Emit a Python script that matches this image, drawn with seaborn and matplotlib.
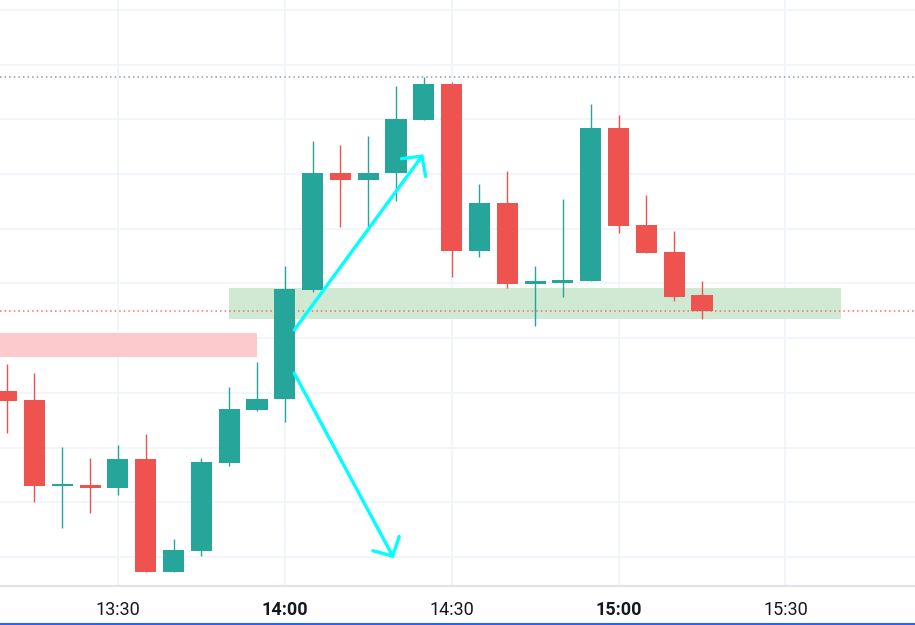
import numpy as np
import matplotlib
matplotlib.use('Agg')
import matplotlib.pyplot as plt
import seaborn as sns

# 5-minute candles, 13:10 .. 15:15
times = ['13:10', '13:15', '13:20', '13:25', '13:30', '13:35', '13:40', '13:45', '13:50', '13:55',
         '14:00', '14:05', '14:10', '14:15', '14:20', '14:25', '14:30', '14:35', '14:40', '14:45',
         '14:50', '14:55', '15:00', '15:05', '15:10', '15:15']
opens = [130.3, 128.7, 113.0, 113.2, 112.6, 117.9, 97.3, 101.1, 117.2, 126.9,
         128.9, 148.8, 170.2, 168.9, 170.2, 179.9, 186.5, 155.9, 164.7, 149.9,
         150.1, 150.5, 178.4, 160.7, 155.8, 147.9]
highs = [135.3, 133.6, 120.1, 118.1, 120.5, 122.5, 103.3, 118.1, 131.1, 135.6,
         153.2, 176.1, 175.3, 177.0, 186.1, 187.8, 186.8, 168.2, 170.6, 153.2,
         165.4, 182.8, 180.8, 166.2, 159.6, 150.5]
lows = [122.7, 110.1, 105.3, 108.0, 111.3, 97.3, 97.3, 100.2, 116.6, 126.7,
        124.7, 148.4, 160.3, 160.1, 165.1, 179.9, 151.2, 154.8, 149.2, 142.2,
        147.5, 150.5, 159.2, 155.6, 146.8, 143.5]
closes = [128.5, 113.0, 113.3, 112.6, 117.9, 97.3, 101.3, 117.4, 127.1, 128.9,
          149.0, 170.2, 168.9, 170.2, 180.1, 186.5, 155.9, 164.7, 149.9, 150.5,
          150.6, 178.4, 160.5, 155.6, 147.5, 145.0]

tick_times = ['13:30', '14:00', '14:30', '15:00', '15:30']

# zones / levels
supply_zone = ('13:00', '13:55', 136.6, 141.0)
demand_zone = ('13:50', '15:40', 143.5, 149.2)
high_level = 187.8
last_close = 145.0

# drawn arrows (start time, start price, end time, end price)
arrow_up = ('14:01.7', 141.5, '14:24.9', 173.6)
arrow_down = ('14:01.7', 133.6, '14:19.6', 99.8)


def to_min(t):
    h, m = t.split(':')
    return (int(h) - 13) * 60 + float(m)


UP = '#26a69a'
DOWN = '#ef5350'

sns.set_theme(style='white')
plt.rcParams['font.family'] = ['Roboto', 'DejaVu Sans']

fig = plt.figure(figsize=(9.15, 6.25), dpi=100)
ax = fig.add_axes([0, 39 / 625, 1, 586 / 625])

x = np.array([to_min(t) for t in times])
o = np.array(opens)
h = np.array(highs)
l = np.array(lows)
c = np.array(closes)
colors = [UP if cc >= oo else DOWN for oo, cc in zip(o, c)]

# grid
for gy in range(100, 201, 10):
    ax.axhline(gy, color='#f0f3fa', lw=1.2, zorder=0)
for t in tick_times:
    ax.axvline(to_min(t), color='#f0f3fa', lw=1.2, zorder=0)

# zones
ax.fill_between([to_min(supply_zone[0]), to_min(supply_zone[1])], supply_zone[2], supply_zone[3],
                color='#fcc9cd', lw=0, zorder=0.5)
ax.fill_between([to_min(demand_zone[0]), to_min(demand_zone[1])], demand_zone[2], demand_zone[3],
                color='#d0e9d3', lw=0, zorder=0.5)

# price lines
ax.axhline(high_level, color='#9598a1', lw=1.1, ls=(0, (1, 2)), zorder=1)
ax.axhline(last_close, color='#ef5350', lw=1.1, ls=(0, (1, 2)), alpha=0.8, zorder=1)

# candles
ax.vlines(x, l, h, colors=colors, lw=1.0, zorder=2)
body_lo = np.minimum(o, c)
body_h = np.maximum(np.abs(c - o), 0.4)
ax.bar(x, body_h, bottom=body_lo, width=3.8, color=colors, lw=0, zorder=2.5)

# arrows
for a in (arrow_up, arrow_down):
    ax.annotate('', xy=(to_min(a[2]), a[3]), xytext=(to_min(a[0]), a[1]),
                arrowprops=dict(arrowstyle='->,head_length=0.85,head_width=0.9',
                                color='#00ffff', lw=2.4, shrinkA=0, shrinkB=0),
                zorder=3)

ax.set_xlim(8.8, 173.3)
ax.set_ylim(94.7, 201.8)

ax.set_xticks([to_min(t) for t in tick_times])
ax.set_xticklabels(tick_times)
for lab in ax.get_xticklabels():
    lab.set_fontweight('bold' if lab.get_text().endswith(':00') else 'normal')
ax.tick_params(axis='x', length=0, pad=11, labelsize=13, labelcolor='#131722')
ax.set_yticks([])

for s in ['top', 'left', 'right']:
    ax.spines[s].set_visible(False)
ax.spines['bottom'].set_color('#e0e3eb')
ax.spines['bottom'].set_linewidth(1.5)

# blue frame line at the bottom
fig.add_artist(plt.Line2D([0, 1], [0.002, 0.002], color='#2962ff', lw=1.5, transform=fig.transFigure))

fig.savefig('out.png', dpi=100)
